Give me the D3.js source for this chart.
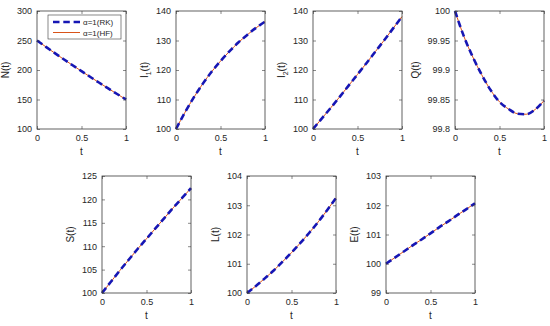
<!DOCTYPE html>
<html>
<head>
<meta charset="utf-8">
<script src="https://cdn.jsdelivr.net/npm/d3@7"></script>
<style>
  body { margin: 0; background: #fff; }
  svg { font-family: "Liberation Sans", Arial, sans-serif; }
</style>
</head>
<body>
<div id="chart"></div>
<script>
// time grid and solution values
var tValues = [0, 0.1, 0.2, 0.3, 0.4, 0.5, 0.6, 0.7, 0.8, 0.9, 1];
var nValues  = [250, 239.2, 228.6, 218.2, 208.0, 198.0, 188.1, 178.4, 168.8, 159.3, 150.0];
var i1Values = [100, 105.6, 110.7, 115.3, 119.4, 123.0, 126.3, 129.3, 131.9, 134.3, 136.4];
var i2Values = [100, 103.6, 107.2, 110.9, 114.7, 118.5, 122.3, 126.2, 130.1, 134.1, 138.1];
var qValues  = [100, 99.957, 99.922, 99.892, 99.866, 99.846, 99.834, 99.826, 99.825, 99.833, 99.848];
var sValues  = [100, 102.4, 104.8, 107.1, 109.4, 111.6, 113.8, 116.0, 118.2, 120.3, 122.4];
var lValues  = [100, 100.24, 100.50, 100.77, 101.07, 101.38, 101.71, 102.06, 102.43, 102.83, 103.25];
var eValues  = [100, 100.21, 100.42, 100.63, 100.83, 101.04, 101.25, 101.45, 101.66, 101.86, 102.07];

var xTicks = [0, 0.5, 1];
var nTicks  = [100, 150, 200, 250, 300];
var i1Ticks = [100, 110, 120, 130, 140];
var i2Ticks = [100, 110, 120, 130, 140];
var qTicks  = [99.8, 99.85, 99.9, 99.95, 100];
var sTicks  = [100, 105, 110, 115, 120, 125];
var lTicks  = [100, 101, 102, 103, 104];
var eTicks  = [99, 100, 101, 102, 103];

var legendLabels = ["\u03b1=1(RK)", "\u03b1=1(HF)"];

var W = 550, H = 326;
var pw = 89;
var axisColor = "#3a3a3a";
var rkColor = "#1616b4";
var hfColor = "#D95319";

var panels = [
  {name: "N", sub: null, vals: nValues,  ticks: nTicks,  left: 37,  top: 11,  bottom: 129, legend: true},
  {name: "I", sub: "1",  vals: i1Values, ticks: i1Ticks, left: 176, top: 11,  bottom: 129},
  {name: "I", sub: "2",  vals: i2Values, ticks: i2Ticks, left: 313, top: 11,  bottom: 129},
  {name: "Q", sub: null, vals: qValues,  ticks: qTicks,  left: 455, top: 11,  bottom: 129},
  {name: "S", sub: null, vals: sValues,  ticks: sTicks,  left: 102, top: 176, bottom: 293},
  {name: "L", sub: null, vals: lValues,  ticks: lTicks,  left: 247, top: 176, bottom: 293},
  {name: "E", sub: null, vals: eValues,  ticks: eTicks,  left: 386, top: 176, bottom: 293}
];

var svg = d3.select("#chart").append("svg")
    .attr("width", W)
    .attr("height", H);

panels.forEach(function(p) {
  var x = d3.scaleLinear().domain([0, 1]).range([p.left, p.left + pw]);
  var y = d3.scaleLinear().domain(d3.extent(p.ticks)).range([p.bottom, p.top]);
  var g = svg.append("g");

  // HF solid line underneath, RK dashed on top
  var line = d3.line()
      .x(function(d, i) { return x(tValues[i]); })
      .y(function(d) { return y(d); })
      .curve(d3.curveMonotoneX);

  g.append("path")
    .datum(p.vals)
    .attr("fill", "none")
    .attr("stroke", hfColor)
    .attr("stroke-width", 1)
    .attr("d", line);

  g.append("path")
    .datum(p.vals)
    .attr("fill", "none")
    .attr("stroke", rkColor)
    .attr("stroke-width", 2.6)
    .attr("stroke-dasharray", "6.5,3.8")
    .attr("d", line);

  // axes, ticks inward on all sides
  var bottomAx = g.append("g")
      .attr("transform", "translate(0," + p.bottom + ")")
      .call(d3.axisBottom(x).tickValues(xTicks).tickSizeInner(-3).tickSizeOuter(0).tickPadding(6)
        .tickFormat(d3.format("")));
  var topAx = g.append("g")
      .attr("transform", "translate(0," + p.top + ")")
      .call(d3.axisTop(x).tickValues(xTicks).tickSizeInner(-3).tickSizeOuter(0).tickFormat(""));
  var leftAx = g.append("g")
      .attr("transform", "translate(" + p.left + ",0)")
      .call(d3.axisLeft(y).tickValues(p.ticks).tickSizeInner(-3).tickSizeOuter(0).tickPadding(5)
        .tickFormat(d3.format("")));
  var rightAx = g.append("g")
      .attr("transform", "translate(" + (p.left + pw) + ",0)")
      .call(d3.axisRight(y).tickValues(p.ticks).tickSizeInner(-3).tickSizeOuter(0).tickFormat(""));

  [bottomAx, topAx, leftAx, rightAx].forEach(function(a) {
    a.select(".domain").remove();
    a.selectAll("line").attr("stroke", axisColor).attr("stroke-width", 0.6);
    a.selectAll("text").attr("fill", "#262626").attr("font-size", "9px")
      .attr("font-family", "Liberation Sans, Arial, sans-serif");
  });

  g.append("rect")
    .attr("x", p.left)
    .attr("y", p.top)
    .attr("width", pw)
    .attr("height", p.bottom - p.top)
    .attr("fill", "none")
    .attr("stroke", axisColor)
    .attr("stroke-width", 0.8);

  // widest tick label to place the y label
  var maxW = 0;
  leftAx.selectAll("text").each(function() {
    maxW = Math.max(maxW, this.getComputedTextLength());
  });

  g.append("text")
    .attr("x", (p.left + pw / 2))
    .attr("y", p.bottom + 26)
    .attr("text-anchor", "middle")
    .attr("font-size", "10px")
    .attr("fill", "#262626")
    .text("t");

  var cy = (p.top + p.bottom) / 2;
  var lx = p.left - 5 - maxW - 8;
  var yl = g.append("text")
      .attr("transform", "translate(" + lx + "," + cy + ") rotate(-90)")
      .attr("text-anchor", "middle")
      .attr("font-size", "10px")
      .attr("fill", "#262626");
  yl.append("tspan").text(p.name);
  if (p.sub) {
    yl.append("tspan").attr("font-size", "7px").attr("dy", 3).text(p.sub);
    yl.append("tspan").attr("dy", -3).text("(t)");
  } else {
    yl.append("tspan").text("(t)");
  }

  if (p.legend) {
    var lg = g.append("g");
    lg.append("rect")
      .attr("x", 48).attr("y", 15)
      .attr("width", 73).attr("height", 24)
      .attr("fill", "#fff")
      .attr("stroke", axisColor)
      .attr("stroke-width", 0.6);
    legendLabels.forEach(function(lab, i) {
      var ly = 22 + i * 10.5;
      lg.append("line")
        .attr("x1", 53).attr("x2", 80)
        .attr("y1", ly).attr("y2", ly)
        .attr("stroke", i === 0 ? rkColor : hfColor)
        .attr("stroke-width", i === 0 ? 2.6 : 1)
        .attr("stroke-dasharray", i === 0 ? "6.5,3.8" : null);
      lg.append("text")
        .attr("x", 83).attr("y", ly + 3)
        .attr("font-size", "8px")
        .attr("fill", "#262626")
        .text(lab);
    });
  }
});
</script>
</body>
</html>
